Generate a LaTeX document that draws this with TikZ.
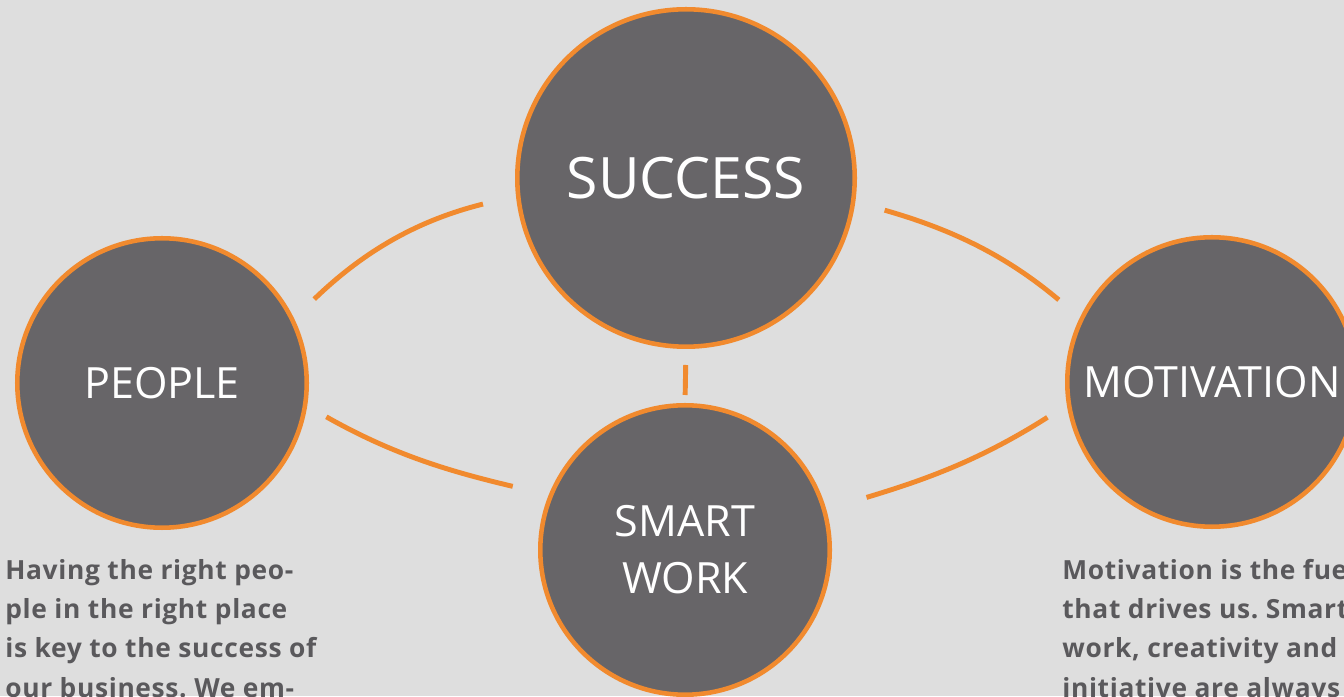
\documentclass[tikz,border=0pt]{standalone}
\usepackage{fontspec}
\setmainfont{Open Sans}
\newfontfamily\blurbfont[LetterSpace=2.5]{Open Sans}
\definecolor{chalk}{HTML}{DEDEDE}
\definecolor{discgray}{HTML}{676568}
\definecolor{ring}{HTML}{F18A2E}
\definecolor{inkgray}{HTML}{5A595C}

\begin{document}
\frenchspacing
\begin{tikzpicture}[x=0.02cm, y=0.02cm,
  disc/.style={circle, fill=discgray, draw=ring, line width=2.6pt, text=white, align=center,
    minimum size=5.79cm, inner sep=0pt, font=\fontsize{24.5pt}{32.4pt}\selectfont},
  link/.style={draw=ring, line width=2.8pt},
  blurb/.style={text=inkgray, align=left, inner sep=0pt, anchor=base west,
    font=\blurbfont\bfseries\fontsize{15pt}{22.2pt}\selectfont}]
\fill[chalk](0,0) rectangle (1344,696);
\useasboundingbox (0,0) rectangle (1344,696);
\clip (0,0) rectangle (1344,696);

\node[disc, minimum size=6.75cm, font=\fontsize{32.5pt}{40pt}\selectfont] (success) at (686,518) {SUCCESS};
\node[disc] (people) at (162,313) {PEOPLE};
\node[disc] (motivation) at (1212,314) {MOTIVATION};
\node[disc] (smartwork) at (685,146) {SMART\\WORK};

% arcs round the middle
\draw[link, shorten <=0.56cm, shorten >=0.68cm](people.26) to[out=44, in=194] (success.186);
\draw[link, shorten <=0.61cm, shorten >=0.55cm](success.-8) to[out=-16, in=140] (motivation.154);
\draw[link, shorten <=0.44cm, shorten >=0.74cm](people.-9) to[out=-29.5, in=166.6] (smartwork.158);
\draw[link, shorten <=0.84cm, shorten >=0.46cm](smartwork.16) to[out=16.7, in=212.5] (motivation.189);
\draw[link, shorten <=0.32cm, shorten >=0.16cm](success.south) -- (smartwork.north);

\node[blurb] (peopletext) at (5,-1) {Having the right peo-\\ple in the right place\\is key to the success of\\our business. We em-};
\node[blurb] (motivationtext) at (1062,-1) {Motivation is the fuel\\that drives us. Smart\\work, creativity and\\initiative are always};

\end{tikzpicture}
\end{document}
